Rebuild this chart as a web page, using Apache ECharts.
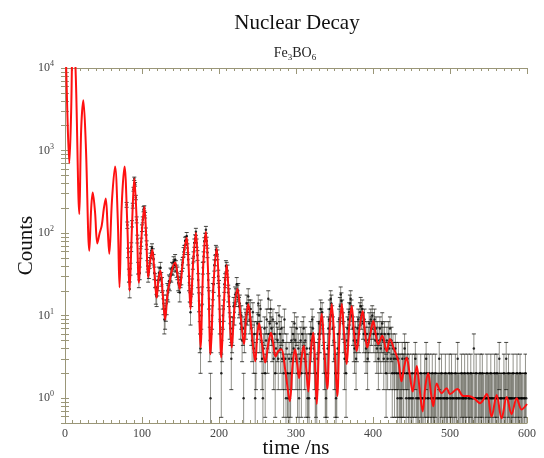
<!DOCTYPE html>
<html>
<head>
<meta charset="utf-8">
<script src="https://cdn.jsdelivr.net/npm/echarts@6/dist/echarts.min.js"></script>
<style>
  html, body { margin: 0; padding: 0; background: #fff; }
  #main { width: 544px; height: 458px; }
</style>
</head>
<body>
<div id="main"></div>
<script>
// measured counts, 1 ns bins starting at 80 ns
var binStart = 80;
var binWidth = 1;
var counts = [
  220, 125, 58, 31, 21, 37, 68, 130, 215, 340,
  455, 390, 270, 145, 85, 38, 27, 33, 57, 78,
  115, 145, 195, 200, 165, 105, 72, 40, 31, 34,
  44, 50, 61, 66, 57, 48, 33, 27, 18, 17,
  22, 25, 33, 32, 38, 28, 24, 16, 14, 9,
  10, 12, 14, 20, 19, 26, 25, 32, 31, 38,
  37, 45, 41, 48, 40, 35, 33, 25, 24, 19,
  27, 29, 41, 44, 59, 63, 80, 82, 92, 66,
  48, 25, 19, 11, 17, 23, 43, 52, 76, 86,
  104, 76, 54, 27, 15, 6, 4, 10, 18, 38,
  52, 79, 90, 110, 80, 58, 27, 16, 5, 1,
  6, 10, 20, 24, 41, 47, 63, 60, 55, 30,
  22, 9, 6, 2, 5, 10, 12, 24, 27, 40,
  38, 35, 19, 17, 8, 7, 3, 6, 7, 13,
  11, 18, 17, 24, 19, 20, 13, 14, 8, 10,
  5, 7, 1, 6, 9, 8, 14, 11, 17, 12,
  9, 12, 7, 5, 11, 4, 6, 1, 3, 6,
  8, 14, 10, 6, 12, 5, 3, 1, 4, 7,
  2, 5, 9, 4, 16, 6, 8, 12, 7, 5,
  9, 3, 6, 2, 4, 8, 5, 3, 10, 6,
  4, 7, 3, 5, 2, 9, 3, 1, 4, 2,
  1, 3, 1, 2, 5, 3, 6, 4, 8, 5,
  3, 7, 2, 4, 1, 3, 5, 2, 6, 4,
  7, 3, 5, 2, 4, 1, 2, 1, 4, 6,
  5, 9, 7, 4, 3, 1, 2, 1, 3, 6,
  8, 6, 12, 9, 11, 7, 4, 3, 2, 1,
  2, 4, 7, 9, 12, 16, 14, 10, 7, 5,
  3, 2, 1, 2, 4, 6, 9, 13, 18, 15,
  12, 8, 6, 3, 4, 2, 5, 7, 9, 11,
  14, 16, 12, 10, 7, 5, 4, 6, 3, 5,
  7, 9, 6, 11, 13, 10, 12, 8, 6, 9,
  5, 4, 6, 3, 5, 8, 6, 9, 7, 10,
  8, 6, 9, 5, 7, 4, 6, 3, 5, 7,
  4, 6, 8, 5, 3, 6, 4, 2, 5, 3,
  6, 4, 7, 3, 5, 2, 4, 3, 2, 4,
  3, 2, 1, 3, 2, 1, 2, 1, 3, 2,
  2, 4, 3, 1, 2, 3, 1, 2, 1, 0,
  1, 2, 1, 0, 2, 3, 1, 2, 1, 1,
  0, 1, 2, 1, 1, 0, 1, 2, 1, 3,
  2, 1, 1, 2, 0, 1, 1, 2, 1, 1,
  1, 2, 1, 0, 1, 1, 3, 1, 1, 2,
  1, 0, 1, 1, 2, 1, 1, 1, 0, 2,
  1, 1, 2, 1, 1, 0, 1, 2, 1, 1,
  3, 1, 1, 0, 1, 2, 1, 1, 1, 2,
  1, 1, 0, 2, 1, 1, 1, 2, 1, 1,
  1, 4, 1, 1, 2, 1, 0, 1, 1, 2,
  1, 1, 2, 1, 1, 0, 1, 1, 2, 1,
  1, 1, 1, 2, 1, 1, 0, 1, 2, 1,
  1, 2, 1, 1, 3, 1, 1, 1, 0, 1,
  2, 1, 1, 3, 1, 1, 2, 1, 1, 1,
  1, 1, 2, 1, 0, 1, 1, 2, 1, 1,
  1, 2, 1, 1, 1, 0, 1, 1, 2, 1
];

// fitted curve (time in ns, counts)
var fitTime = [
  0, 3, 5.6, 8, 10.5, 14, 18.6, 21, 23.8, 27, 31.6, 34, 36, 39, 42, 45, 47.7, 50.5, 52.9, 55.5,
  57.5, 61, 65, 68.5, 70.8, 73.5, 77.3, 81, 83.8, 87, 90, 93, 96, 99, 103, 105.5, 108, 110.5, 113.4, 116,
  119, 121.5, 124, 127, 130, 133, 136, 139, 143, 146, 149, 153, 158, 160.5, 163, 166.5, 170, 173, 176, 179.5,
  183, 186, 189, 193, 197, 200, 203, 206.5, 210, 213, 216.5, 220, 224, 228, 232.5, 235, 238, 242, 247, 249.5,
  252, 256, 260, 264, 267.5, 270.5, 273.4, 277, 281, 286, 292, 295.5, 298.7, 301.5, 304, 307, 310, 313, 316, 319,
  322.5, 325, 327, 330, 333.4, 337, 340.6, 343.5, 346.4, 350, 353.6, 356.5, 359.4, 362.5, 365.8, 369, 372.3, 375.5, 378.8, 382.5,
  386.6, 389.5, 392.6, 396.5, 400.4, 403.5, 406.9, 412, 417.8, 422, 427, 432.9, 437, 440.5, 443.8, 447.5, 451.6, 456.8, 460.5, 464.5,
  468, 471.8, 475, 478.3, 482.7, 489.2, 495.7, 500, 509.5, 517.3, 523.8, 531, 539, 547.7, 554, 560.6, 567, 573.6, 580, 586.6,
  593, 600
];
var fitCounts = [
  40000, 3000, 700, 3000, 40000, 8000, 170, 1800, 4070, 1200, 61, 200, 310, 180, 75, 100, 123, 200, 262, 110,
  56, 250, 640, 150, 22, 200, 640, 120, 20, 120, 457, 150, 25, 80, 209, 90, 29, 45, 63, 35,
  16.5, 28, 35, 18, 9, 18, 26, 36, 44, 32, 21, 45, 88, 40, 12, 45, 101, 30, 4.1, 40,
  104, 30, 3.4, 25, 65, 20, 3.1, 15, 41, 15, 4.1, 12, 21, 10, 4.5, 9, 13.8, 7, 2.8, 5.5,
  8.1, 4.5, 2.7, 4.5, 6.2, 4.5, 3.2, 3.7, 3.9, 2.2, 0.92, 2.5, 3.9, 2.6, 1.75, 3.0, 4.3, 2.4, 1.2, 3.5,
  6.2, 2.2, 0.85, 4.5, 10.5, 3.5, 1.3, 6, 13.8, 4.5, 1.06, 6, 13.8, 6, 2.6, 7, 13.1, 6, 3.7, 7,
  11.4, 6.5, 4.1, 6, 8.6, 6, 4.5, 5.7, 3.7, 5.2, 4, 2.8, 1.6, 2.4, 3.1, 2, 1.2, 2.45, 1.3, 0.69,
  1.4, 2.0, 1.2, 0.8, 1.5, 1.15, 1.32, 1.12, 1.29, 1.06, 1.06, 1.0, 0.87, 1.12, 0.6, 1.09, 0.57, 1.03, 0.64, 1.0,
  0.73, 0.85
];

var majorY = [1, 10, 100, 1000, 10000];

window.onload = function () {
  var serif = 'Liberation Serif';
  var axisCol = '#9a9678';

  // points and sqrt(N) error bars, empty bins are not drawn on the log axis
  var points = [], bars = [];
  for (var i = 0; i < counts.length; i++) {
    var n = counts[i];
    if (n <= 0) continue;
    var t = binStart + i * binWidth;
    var e = Math.sqrt(n);
    points.push([t, n]);
    bars.push([t, Math.max(n - e, 0.2), n + e]);
  }
  var fit = [];
  for (var j = 0; j < fitTime.length; j++) fit.push([fitTime[j], fitCounts[j]]);

  // log ticks 1..9 per decade
  var allY = [];
  for (var d = -1; d <= 4; d++) {
    for (var m = 1; m <= 9; m++) {
      var v = m * Math.pow(10, d);
      if (v >= 0.5 && v <= 10000) allY.push(v);
    }
  }

  var myChart = echarts.init(document.getElementById('main'));
  var option = {
    backgroundColor: '#fff',
    animation: false,
    title: [
      {
        text: 'Nuclear Decay',
        left: 292, top: 8, textAlign: 'center',
        textStyle: { fontFamily: serif, fontSize: 21, fontWeight: 'normal', color: '#111' }
      },
      {
        text: '{n|Fe}{s|3}{n|BO}{s|6}',
        left: 290, top: 40, textAlign: 'center',
        textStyle: {
          fontWeight: 'normal',
          rich: {
            n: { fontFamily: serif, fontSize: 14, fontWeight: 'normal', color: '#222' },
            s: { fontFamily: serif, fontSize: 9, fontWeight: 'normal', color: '#222', padding: [8, 0, 0, 0] }
          }
        }
      }
    ],
    grid: { left: 65, right: 17, top: 68, bottom: 35, containLabel: false, outerBoundsMode: 'none' },
    xAxis: [
      {
        type: 'value', position: 'bottom', min: 0, max: 600, interval: 100,
        name: 'time /ns', nameLocation: 'middle', nameGap: 15, nameMoveOverlap: false,
        nameTextStyle: { fontFamily: serif, fontSize: 21, color: '#111' },
        axisLine: { show: true, lineStyle: { color: axisCol } },
        axisTick: { inside: true, length: 6, lineStyle: { color: axisCol } },
        minorTick: { show: true, splitNumber: 10, length: 3, lineStyle: { color: axisCol } },
        axisLabel: { margin: 5, fontFamily: serif, fontSize: 12, color: '#444' },
        splitLine: { show: false }
      },
      {
        type: 'value', position: 'top', min: 0, max: 600, interval: 100,
        axisLine: { show: true, lineStyle: { color: axisCol } },
        axisTick: { inside: true, length: 6, lineStyle: { color: axisCol } },
        minorTick: { show: true, splitNumber: 10, length: 3, lineStyle: { color: axisCol } },
        axisLabel: { show: false },
        splitLine: { show: false }
      }
    ],
    yAxis: [
      {
        type: 'log', logBase: 10, position: 'left', min: 0.5, max: 10000,
        name: 'Counts', nameLocation: 'middle', nameGap: 28, nameMoveOverlap: false,
        nameTextStyle: { fontFamily: serif, fontSize: 21, color: '#111' },
        axisLine: { show: true, lineStyle: { color: axisCol } },
        axisTick: { inside: true, length: 4, customValues: allY, lineStyle: { color: axisCol } },
        axisLabel: {
          customValues: majorY, margin: 11,
          formatter: function (v) {
            return '{b|10}{e|' + Math.round(Math.log10(v)) + '}';
          },
          rich: {
            b: { fontFamily: serif, fontSize: 12, color: '#444' },
            e: { fontFamily: serif, fontSize: 8, color: '#444', padding: [0, 0, 8, 0] }
          }
        },
        splitLine: { show: false }
      },
      {
        type: 'log', logBase: 10, position: 'right', min: 0.5, max: 10000,
        axisLine: { show: true, lineStyle: { color: axisCol } },
        axisTick: { inside: true, length: 4, customValues: allY, lineStyle: { color: axisCol } },
        axisLabel: { show: false },
        splitLine: { show: false }
      }
    ],
    series: [
      {
        name: 'error',
        type: 'custom',
        clip: true,
        renderItem: function (params, api) {
          var t = api.value(0);
          var top = api.coord([t, api.value(2)]);
          var bot = api.coord([t, api.value(1)]);
          var w = 2;
          var st = { stroke: 'rgba(40,40,25,0.5)', lineWidth: 1 };
          var cap = { stroke: 'rgba(10,10,5,0.75)', lineWidth: 1 };
          return {
            type: 'group',
            children: [
              { type: 'line', shape: { x1: top[0], y1: top[1], x2: bot[0], y2: bot[1] }, style: st },
              { type: 'line', shape: { x1: top[0] - w, y1: top[1], x2: top[0] + w, y2: top[1] }, style: cap },
              { type: 'line', shape: { x1: bot[0] - w, y1: bot[1], x2: bot[0] + w, y2: bot[1] }, style: cap }
            ]
          };
        },
        encode: { x: 0, y: [1, 2] },
        data: bars,
        z: 1
      },
      {
        name: 'data',
        type: 'scatter',
        symbol: 'circle',
        symbolSize: 2.5,
        itemStyle: { color: '#000' },
        data: points,
        z: 2
      },
      {
        name: 'fit',
        type: 'line',
        smooth: 0.35,
        showSymbol: false,
        clip: true,
        lineStyle: { color: '#ff1010', width: 2 },
        data: fit,
        z: 3
      }
    ]
  };
  myChart.setOption(option);
};
</script>
</body>
</html>
